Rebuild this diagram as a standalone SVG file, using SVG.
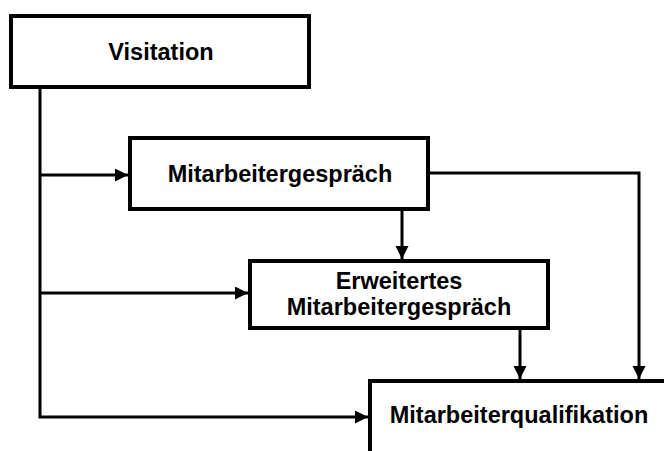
<svg xmlns="http://www.w3.org/2000/svg" width="664" height="451" viewBox="0 0 664 451">
<defs>
<style>
.box{fill:#fff;stroke:#000;stroke-width:4}
.lbl{font-family:"Liberation Sans",Arial,sans-serif;font-weight:bold;font-size:23.5px;fill:#000;text-anchor:middle}
.con{fill:none;stroke:#000;stroke-width:3}
</style>
<marker id="ah" markerUnits="userSpaceOnUse" markerWidth="14" markerHeight="14" refX="13" refY="6.5" orient="auto">
<path d="M0,0 L13,6.5 L0,13 z" fill="#000"/>
</marker>
</defs>
<rect width="664" height="451" fill="#fff"/>
<g id="connectors">
<path class="con" d="M40,89 V417 H368" marker-end="url(#ah)"/>
<path class="con" d="M40,175 H128" marker-end="url(#ah)"/>
<path class="con" d="M40,293 H248" marker-end="url(#ah)"/>
<path class="con" d="M402,211 V259" marker-end="url(#ah)"/>
<path class="con" d="M430,173 H639 V379" marker-end="url(#ah)"/>
<path class="con" d="M520,330 V379" marker-end="url(#ah)"/>
</g>
<g id="visitation">
<rect class="box" x="11" y="16" width="298" height="71"/>
<text class="lbl" x="161" y="60">Visitation</text>
</g>
<g id="mitarbeitergespraech">
<rect class="box" x="130" y="138" width="298" height="71"/>
<text class="lbl" x="280" y="182">Mitarbeitergespräch</text>
</g>
<g id="erweitertes">
<rect class="box" x="250" y="261" width="298" height="67"/>
<text class="lbl" x="399" y="289">Erweitertes</text>
<text class="lbl" x="399" y="315">Mitarbeitergespräch</text>
</g>
<g id="qualifikation">
<rect class="box" x="370" y="381" width="320" height="100"/>
<text class="lbl" x="519" y="423">Mitarbeiterqualifikation</text>
</g>
</svg>
